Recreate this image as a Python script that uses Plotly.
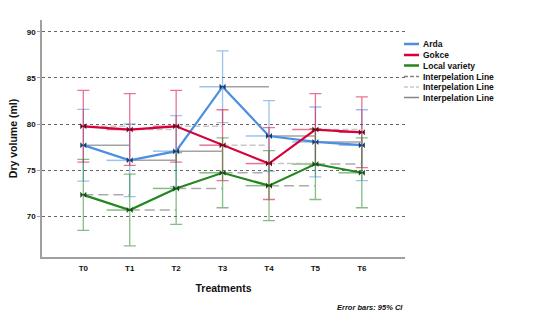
import plotly.graph_objects as go

# ---------------- data ----------------
treatments = ["T0", "T1", "T2", "T3", "T4", "T5", "T6"]
arda_mean = [77.7, 76.05, 77.05, 84.05, 78.7, 78.05, 77.7]
arda_ci = [3.9, 3.95, 3.85, 3.9, 3.85, 3.8, 3.85]
gokce_mean = [79.75, 79.4, 79.75, 77.7, 75.7, 79.4, 79.1]
gokce_ci = [3.9, 3.9, 3.9, 3.85, 3.9, 3.9, 3.85]
local_mean = [72.3, 70.65, 73.0, 74.7, 73.3, 75.65, 74.7]
local_ci = [3.85, 3.9, 3.9, 3.8, 3.8, 3.85, 3.8]
series_names = ["Arda", "Gokce", "Local variety"]
legend_interp = ["Interpelation Line", "Interpelation Line", "Interpelation Line"]

# ---------------- styles ----------------
FONT = "Liberation Sans, Arial, sans-serif"
colors = ["#4a8fe0", "#d6003a", "#23861f"]
light = ["rgba(74,143,224,0.55)", "rgba(214,0,58,0.55)", "rgba(35,134,31,0.55)"]
dark = ["#1d3a66", "#6a0a1e", "#1b4a18"]
interp_style = [
    dict(color="rgba(140,140,140,0.8)", dash="solid"),
    dict(color="rgba(185,185,185,0.8)", dash="6px,3px"),
    dict(color="rgba(150,150,150,0.8)", dash="10px,5px"),
]

means = [arda_mean, gokce_mean, local_mean]
cis = [arda_ci, gokce_ci, local_ci]
xs = list(range(len(treatments)))

fig = go.Figure()

# error bars (light, drawn first)
for k in range(3):
    fig.add_trace(go.Scatter(
        x=xs, y=means[k], mode="markers",
        marker=dict(size=1, opacity=0),
        error_y=dict(type="data", array=cis[k], color=light[k], thickness=1.3, width=6),
        showlegend=False, hoverinfo="skip"))

# light coloured short horizontal segments + grey step interpolation lines
for k in range(3):
    hx, hy = [], []
    for i in xs:
        if i > 0:
            hx += [i - 0.5, i, None]
            hy += [means[k][i], means[k][i], None]
    fig.add_trace(go.Scatter(x=hx, y=hy, mode="lines",
                             line=dict(color=light[k], width=1.5),
                             showlegend=False, hoverinfo="skip"))
for k in range(3):
    sx, sy = [], []
    for i in xs[:-1]:
        sx += [i, i + 1, None]
        sy += [means[k][i], means[k][i], None]
    fig.add_trace(go.Scatter(x=sx, y=sy, mode="lines",
                             line=dict(color=interp_style[k]["color"], width=1.5,
                                       dash=interp_style[k]["dash"]),
                             showlegend=False, hoverinfo="skip"))

# main lines with markers
for k in range(3):
    fig.add_trace(go.Scatter(
        x=xs, y=means[k], mode="lines+markers", name=series_names[k],
        line=dict(color=colors[k], width=2.2),
        marker=dict(symbol="bowtie", size=6, color=dark[k]),
        showlegend=False))

# ---------------- layout ----------------
L, R, T, B = 42, 405, 20, 257
W, H = 538, 321


def px_x(p):
    return (p - L) / (R - L)


def px_y(p):
    return (B - p) / (B - T)


shapes = []
annotations = []
leg_rows = [44, 55, 65.5, 76.5, 87, 97.5]
leg_labels = series_names + legend_interp
leg_lines = [
    dict(color=colors[0], width=2.5, dash="solid"),
    dict(color=colors[1], width=2.5, dash="solid"),
    dict(color=colors[2], width=2.5, dash="solid"),
    dict(color="rgba(120,120,120,0.9)", width=1.5, dash="4px,2px"),
    dict(color="rgba(195,195,195,0.9)", width=1.5, dash="4px,2px"),
    dict(color="rgba(120,120,120,0.9)", width=1.5, dash="solid"),
]
for r, lab, ln in zip(leg_rows, leg_labels, leg_lines):
    shapes.append(dict(type="line", xref="paper", yref="paper",
                       x0=px_x(404), x1=px_x(419), y0=px_y(r), y1=px_y(r),
                       line=ln))
    annotations.append(dict(xref="paper", yref="paper", x=px_x(421), y=px_y(r),
                            text="<b>%s</b>" % lab, showarrow=False,
                            xanchor="left", yanchor="middle",
                            font=dict(family=FONT, size=8.5, color="#111")))

annotations.append(dict(xref="paper", yref="paper", x=px_x(335), y=px_y(307),
                        text="<b><i>Error bars: 95% CI</i></b>", showarrow=False,
                        xanchor="left", yanchor="middle",
                        font=dict(family=FONT, size=7.5, color="#111")))

fig.update_layout(
    width=W, height=H,
    margin=dict(l=L, r=W - R, t=T, b=H - B, pad=0),
    paper_bgcolor="white", plot_bgcolor="white",
    showlegend=False,
    font=dict(family=FONT, color="#111"),
    shapes=shapes, annotations=annotations,
    xaxis=dict(range=[-0.89, 6.93], tickvals=xs, ticktext=["<b>%s</b>" % t for t in treatments],
               showgrid=False, zeroline=False, showline=True, linecolor="#a0a0a0",
               linewidth=1.5, ticks="", ticklabelstandoff=3, tickfont=dict(size=8, family=FONT),
               title=dict(text="<b>Treatments</b>", font=dict(size=10.5, family=FONT),
                          standoff=12)),
    yaxis=dict(range=[65.55, 91.3], tickvals=[70, 75, 80, 85, 90],
               ticktext=["<b>%d</b>" % v for v in [70, 75, 80, 85, 90]],
               showgrid=True, gridcolor="#666", griddash="dot", gridwidth=1,
               zeroline=False, showline=True, linecolor="#a0a0a0", linewidth=1.5,
               ticks="outside", ticklen=3, tickcolor="#a0a0a0",
               tickfont=dict(size=8, family=FONT),
               title=dict(text="<b>Dry volume (ml)</b>", font=dict(size=10.5, family=FONT),
                          standoff=7)),
)

fig.write_html("out.html")
